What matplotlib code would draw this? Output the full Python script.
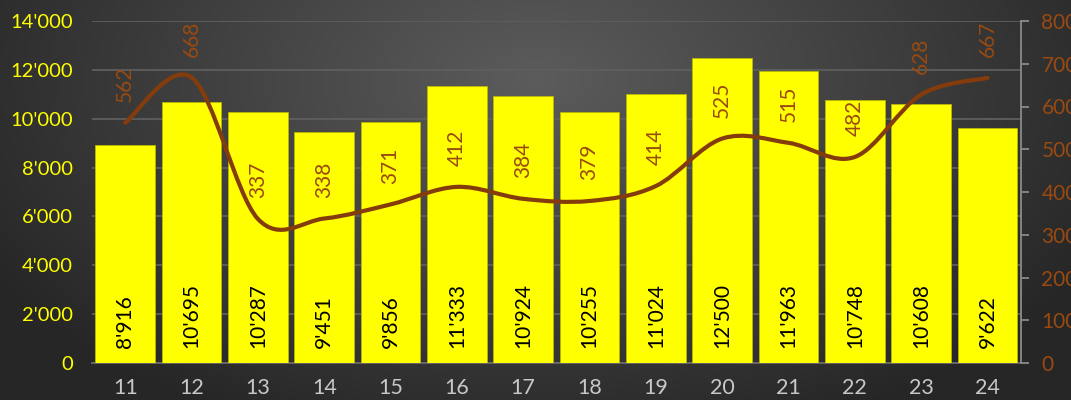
import numpy as np
import matplotlib
matplotlib.use('Agg')
import matplotlib.pyplot as plt
from matplotlib.path import Path
from matplotlib.patches import PathPatch
from matplotlib.ticker import FuncFormatter

plt.rcParams['font.family'] = ['Lato', 'DejaVu Sans']

categories = ['11', '12', '13', '14', '15', '16', '17', '18', '19', '20', '21', '22', '23', '24']
bar_values = [8916, 10695, 10287, 9451, 9856, 11333, 10924, 10255, 11024, 12500, 11963, 10748, 10608, 9622]
line_values = [562, 668, 337, 338, 371, 412, 384, 379, 414, 525, 515, 482, 628, 667]

bar_color = '#ffff00'
line_color = '#843c0c'
label_brown = '#9a4a10'


def fmt_thousands(v, pos=None):
    return '{:,.0f}'.format(v).replace(',', "'")


fig = plt.figure(figsize=(10.71, 4.0), dpi=100)

# radial background
bg = fig.add_axes([0, 0, 1, 1], zorder=-10)
yy, xx = np.mgrid[0:1:400j, 0:1:1071j]
r = np.sqrt(((xx - 0.5) * 1.6) ** 2 + ((yy - 0.2) * 1.0) ** 2)
shade = np.clip(0.36 - 0.22 * r, 0.15, 0.36)
bg.imshow(np.dstack([shade, shade, shade]), extent=[0, 1, 0, 1], aspect='auto')
bg.axis('off')

ax = fig.add_axes([0.086, 0.0925, 0.867, 0.855])
ax.patch.set_alpha(0)
x = np.arange(len(categories))

ax.bar(x, bar_values, width=0.9, color=bar_color, edgecolor='#b8b800', linewidth=0.6, zorder=3)
for xi, v in zip(x, bar_values):
    ax.annotate(fmt_thousands(v), (xi, 0), xytext=(0, 11), textcoords='offset points',
                rotation=90, ha='center', va='bottom', fontsize=15, color='black', zorder=5)

ax.set_ylim(0, 14000)
ax.set_yticks(np.arange(0, 14001, 2000))
ax.yaxis.set_major_formatter(FuncFormatter(fmt_thousands))
ax.set_xlim(-0.5, len(categories) - 0.5)
ax.set_xticks(x)
ax.set_xticklabels(categories)
ax.grid(axis='y', color='#5e5e5e', linewidth=1.3, zorder=0)
ax.set_axisbelow(True)
ax.tick_params(axis='y', length=0, labelsize=14.5, labelcolor='#ffff00', pad=14)
ax.tick_params(axis='x', length=0, labelsize=15.5, labelcolor='#c8c8c8', pad=11)
for s in ['left', 'top', 'right']:
    ax.spines[s].set_visible(False)
ax.spines['bottom'].set_color('#6a6a6a')
ax.spines['bottom'].set_linewidth(1.3)

ax2 = ax.twinx()
ax2.set_ylim(0, 800)
ax2.set_yticks(np.arange(0, 801, 100))
ax2.tick_params(axis='y', length=6, width=1.3, color='#8a8a8a', labelsize=15,
                labelcolor=label_brown, pad=9)
for s in ['left', 'top', 'bottom']:
    ax2.spines[s].set_visible(False)
ax2.spines['right'].set_color('#8a8a8a')
ax2.spines['right'].set_linewidth(1.3)

# smoothed line (Bezier through the points)
pts = np.column_stack([x, line_values]).astype(float)
n = len(pts)
verts = [pts[0]]
codes = [Path.MOVETO]
for i in range(n - 1):
    p0 = pts[i - 1] if i > 0 else pts[i]
    p1 = pts[i]
    p2 = pts[i + 1]
    p3 = pts[i + 2] if i + 2 < n else pts[i + 1]
    c1 = p1 + (p2 - p0) / 6.0
    c2 = p2 - (p3 - p1) / 6.0
    verts += [c1, c2, p2]
    codes += [Path.CURVE4] * 3
ax2.add_patch(PathPatch(Path(verts, codes), facecolor='none', edgecolor=line_color,
                        linewidth=3, capstyle='round', zorder=4))

for xi, v in zip(x, line_values):
    ax2.annotate(str(v), (xi, v), xytext=(0, 15), textcoords='offset points',
                 rotation=90, ha='center', va='bottom', fontsize=15, color=label_brown, zorder=5)

fig.savefig('out.png', dpi=100)
